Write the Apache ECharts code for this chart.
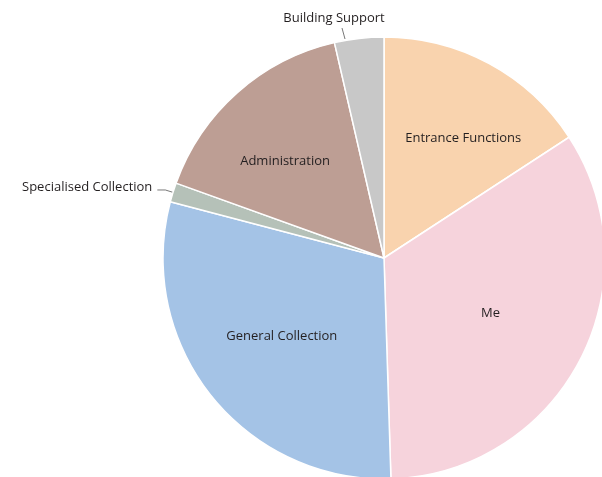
<!DOCTYPE html>
<html>
<head>
<meta charset="utf-8">
<script src="https://cdn.jsdelivr.net/npm/echarts@6/dist/echarts.min.js"></script>
<style>
  html, body { margin: 0; padding: 0; background: #fff; }
  #pie { width: 602px; height: 477px; }
</style>
</head>
<body>
<div id="pie"></div>
<script>
// slices clockwise from 12 o'clock, values in %
var categories = ['Entrance Functions', 'Me', 'General Collection', 'Specialised Collection', 'Administration', 'Building Support'];
var shares = [15.8, 33.7, 29.6, 1.4, 15.9, 3.6];
var colours = ['#F9D3AE', '#F6D3DC', '#A4C3E6', '#B5C1B8', '#BD9E94', '#C8C8C8'];
var outsideLabels = ['Specialised Collection', 'Building Support'];

// small nudges so the inner labels sit where the original put them
var innerOffsets = {
    'Entrance Functions': [14, 1],
    'Me': [-15, -8],
    'General Collection': [5, -7],
    'Administration': [-8, 6]
};

var pie = echarts.init(document.getElementById('pie'));

function getPieOption() {
    var baseData = categories.map(function (name, i) {
        var outside = outsideLabels.indexOf(name) >= 0;
        return {
            name: name,
            value: shares[i],
            itemStyle: { color: colours[i] },
            label: { show: outside },
            labelLine: { show: outside }
        };
    });
    var labelData = categories.map(function (name, i) {
        var outside = outsideLabels.indexOf(name) >= 0;
        return {
            name: name,
            value: shares[i],
            label: { show: !outside, offset: innerOffsets[name] || [0, 0] }
        };
    });
    return {
        animation: false,
        textStyle: { fontFamily: 'Open Sans, sans-serif' },
        series: [
            {
                type: 'pie',
                center: [384, 258],
                radius: 221,
                startAngle: 90,
                clockwise: true,
                silent: true,
                itemStyle: {
                    borderColor: '#ffffff',
                    borderWidth: 1.5
                },
                label: {
                    position: 'outside',
                    fontSize: 13,
                    color: '#231F20',
                    fontFamily: 'Open Sans, sans-serif'
                },
                labelLine: {
                    length: 8,
                    length2: 8,
                    lineStyle: { color: '#555', width: 0.8 }
                },
                labelLayout: function (params) {
                    if (params.dataIndex === 5) {
                        // Building Support sits centred above a short tick
                        return {
                            x: 334, y: 18, align: 'center', verticalAlign: 'middle',
                            labelLinePoints: [[345, 39], [342, 28], [342, 28]]
                        };
                    }
                    if (params.dataIndex === 3) {
                        return { dy: -3 };
                    }
                },
                data: baseData
            },
            {
                // transparent copy, only used to place the inner labels
                type: 'pie',
                center: [384, 258],
                radius: [47, 221],
                startAngle: 90,
                clockwise: true,
                silent: true,
                itemStyle: { color: 'rgba(0,0,0,0)' },
                label: {
                    position: 'inside',
                    fontSize: 13,
                    color: '#231F20',
                    fontFamily: 'Open Sans, sans-serif'
                },
                labelLine: { show: false },
                data: labelData
            }
        ]
    };
}

pie.setOption(getPieOption());
</script>
</body>
</html>
